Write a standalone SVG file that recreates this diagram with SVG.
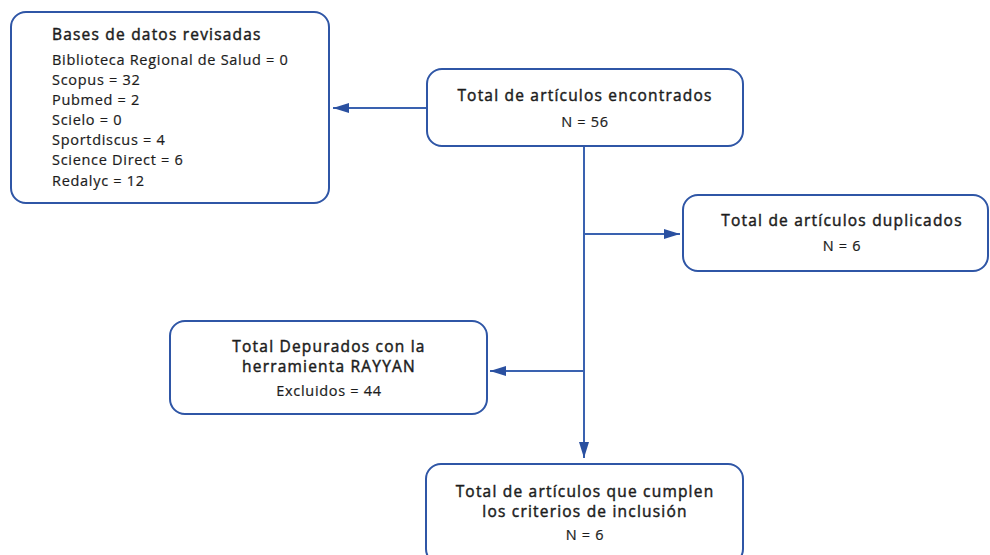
<svg xmlns="http://www.w3.org/2000/svg" width="990" height="555" viewBox="0 0 990 555">
<style>
.box{fill:#ffffff;stroke:#2f56a6;stroke-width:2}
.t{font-family:"Open Sans","Liberation Sans",sans-serif;fill:#1c1c1c;font-weight:400}
.h{font-size:15.5px;letter-spacing:1.2px;stroke:#1c1c1c;stroke-width:0.45}
.s{font-size:14.5px;letter-spacing:0.7px;stroke:#1c1c1c;stroke-width:0.2}
.c{text-anchor:middle}
.ln{stroke:#3a62b0;stroke-width:2;fill:none}
</style>
<defs>
<marker id="ah" viewBox="0 0 16 10" refX="16" refY="5" markerWidth="16" markerHeight="10" markerUnits="userSpaceOnUse" orient="auto">
<path d="M0,0 L16,5 L0,10 Z" fill="#2a50a0"/>
</marker>
</defs>
<rect width="990" height="555" fill="#ffffff"/>
<g id="connectors">
<line class="ln" x1="427" y1="108" x2="333" y2="108" marker-end="url(#ah)"/>
<line class="ln" x1="584" y1="146" x2="584" y2="458" marker-end="url(#ah)"/>
<line class="ln" x1="584" y1="234" x2="680" y2="234" marker-end="url(#ah)"/>
<line class="ln" x1="584" y1="371" x2="490" y2="371" marker-end="url(#ah)"/>
</g>
<g id="bases">
<rect class="box" x="11" y="12" width="318" height="191" rx="15"/>
<text class="t h" x="52" y="40">Bases de datos revisadas</text>
<text class="t s" x="52" y="65">Biblioteca Regional de Salud = 0</text>
<text class="t s" x="52" y="85">Scopus = 32</text>
<text class="t s" x="52" y="105">Pubmed = 2</text>
<text class="t s" x="52" y="125">Scielo = 0</text>
<text class="t s" x="52" y="145">Sportdiscus = 4</text>
<text class="t s" x="52" y="165">Science Direct = 6</text>
<text class="t s" x="52" y="186">Redalyc = 12</text>
</g>
<g id="total">
<rect class="box" x="427" y="69" width="316" height="77" rx="15"/>
<text class="t h c" x="585" y="101">Total de artículos encontrados</text>
<text class="t s c" x="585" y="127">N = 56</text>
</g>
<g id="duplicados">
<rect class="box" x="683" y="195" width="305" height="76" rx="15"/>
<text class="t h c" x="842" y="226">Total de artículos duplicados</text>
<text class="t s c" x="842" y="251">N = 6</text>
</g>
<g id="rayyan">
<rect class="box" x="170" y="321" width="317" height="93" rx="15"/>
<text class="t h c" x="329" y="352">Total Depurados con la</text>
<text class="t h c" x="329" y="372">herramienta RAYYAN</text>
<text class="t s c" x="329" y="396">Excluidos = 44</text>
</g>
<g id="inclusion">
<rect class="box" x="426" y="464" width="317" height="100" rx="15"/>
<text class="t h c" x="585" y="497">Total de artículos que cumplen</text>
<text class="t h c" x="585" y="517">los criterios de inclusión</text>
<text class="t s c" x="585" y="540">N = 6</text>
</g>
</svg>
